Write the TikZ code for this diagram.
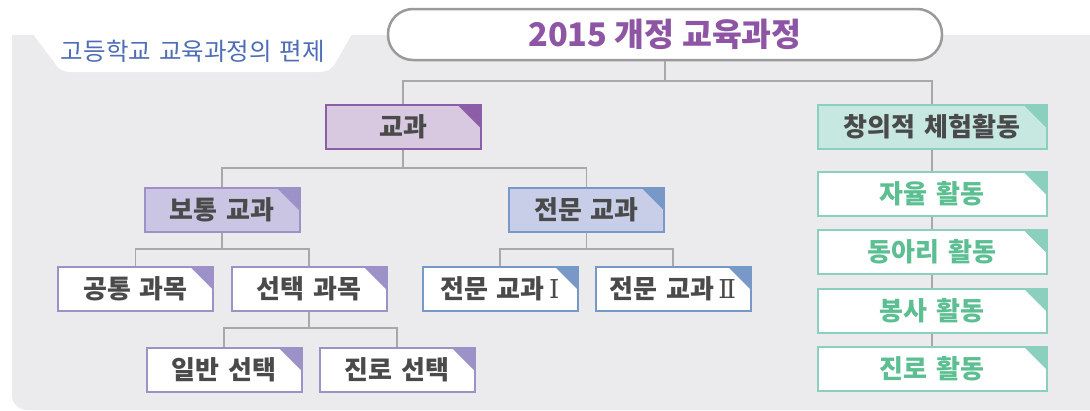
\documentclass[tikz,border=0pt]{standalone}
\usepackage{fontspec}
\newfontfamily\kr{Noto Sans CJK KR}
\newfontfamily\romfont{DejaVu Serif}
\newcommand\mywidesp{\spaceskip=0.33em\relax}
\definecolor{bg}{HTML}{EBEBEE}
\definecolor{tabtext}{HTML}{4F6DB5}
\definecolor{titlecol}{HTML}{8E55A5}
\definecolor{topborder}{HTML}{9A9A9A}
\definecolor{conncol}{HTML}{A8A8A8}
\definecolor{txt}{HTML}{4A4A4A}
\definecolor{gyofill}{HTML}{D9C9E0}
\definecolor{gyoline}{HTML}{8D5EA8}
\definecolor{botfill}{HTML}{C9C5E3}
\definecolor{botline}{HTML}{9C92C8}
\definecolor{jmfill}{HTML}{C8CEE8}
\definecolor{jmline}{HTML}{7898C8}
\definecolor{chfill}{HTML}{C7E8E0}
\definecolor{chline}{HTML}{8BD0BE}
\definecolor{greentxt}{HTML}{5CBF92}
\begin{document}
\begin{tikzpicture}[x=1pt,y=-1pt,
  box/.style={draw=#1, line width=2pt, minimum width=155pt, minimum height=44pt,
    inner sep=0pt, font=\kr\bfseries\fontsize{26}{28}\selectfont\mywidesp, text=txt,
    path picture={\fill[#1] ([xshift=-23pt]path picture bounding box.north east)
      -- (path picture bounding box.north east)
      -- ([yshift=-23pt]path picture bounding box.north east) -- cycle;}},
  widebox/.style={box=#1, minimum width=229pt},
  conn/.style={draw=conncol, line width=1.5pt}]
\useasboundingbox (0,0) rectangle (1090,410);
% background
\fill[bg] (12,35) -- (1090,35) -- (1090,410) -- (27,410)
  .. controls (18.7,410) and (12,403.3) .. (12,395) -- cycle;
\fill[white] (33,34) -- (352,34) -- (336,62) .. controls (331,70) and (327,72) .. (318,72)
  -- (72,72) .. controls (63,72) and (59,70) .. (54,62) -- cycle;
\node[font=\kr\fontsize{24.5}{26}\selectfont\mywidesp, text=tabtext] (tab) at (193,51) {고등학교 교육과정의 편제};
% nodes
\node[draw=topborder, line width=2.5pt, fill=white, minimum width=554pt, minimum height=51pt,
  rounded corners=25pt, font=\kr\bfseries\fontsize{32.5}{34}\selectfont, text=titlecol]
  (top) at (665,34.5) {2015 개정 교육과정};
\node[box=gyoline, fill=gyofill] (gyo) at (403,127) {교과};
\node[widebox=chline, fill=chfill] (cheh) at (932,127) {창의적 체험활동};
\node[box=botline, fill=botfill] (bot) at (222,209.5) {보통 교과};
\node[box=jmline, fill=jmfill] (jm) at (586.5,209.5) {전문 교과};
\node[box=botline, fill=white] (gt) at (135.5,288.5) {공통 과목};
\node[box=botline, fill=white] (st) at (309,288.5) {선택 과목};
\node[box=jmline, fill=white] (j1) at (500,288.5) {전문 교과\,{\romfont\mdseries Ⅰ}};
\node[box=jmline, fill=white] (j2) at (673,288.5) {전문 교과\,{\romfont\mdseries Ⅱ}};
\node[box=botline, fill=white] (il) at (224,369.5) {일반 선택};
\node[box=botline, fill=white] (jr) at (397,369.5) {진로 선택};
\node[widebox=chline, fill=white, text=greentxt] (g1) at (932,194) {자율 활동};
\node[widebox=chline, fill=white, text=greentxt] (g2) at (932,252) {동아리 활동};
\node[widebox=chline, fill=white, text=greentxt] (g3) at (932,310.5) {봉사 활동};
\node[widebox=chline, fill=white, text=greentxt] (g4) at (932,368.5) {진로 활동};
% connectors
\draw[conn] (top.south) -- (top.south |- 0,81);
\draw[conn] (gyo.north) -- (gyo.north |- 0,81) -| (cheh.north);
\draw[conn] (gyo.south) -- (gyo.south |- 0,168);
\draw[conn] (bot.north) -- (bot.north |- 0,168) -| (jm.north);
\draw[conn] (bot.south) -- (bot.south |- 0,249);
\draw[conn] (gt.north) -- (gt.north |- 0,249) -| (st.north);
\draw[conn] (jm.south) -- (jm.south |- 0,249);
\draw[conn] (j1.north) -- (j1.north |- 0,249) -| (j2.north);
\draw[conn] (st.south) -- (st.south |- 0,328);
\draw[conn] (il.north) -- (il.north |- 0,328) -| (jr.north);
\draw[conn] (cheh) -- (g1);
\draw[conn] (g1) -- (g2);
\draw[conn] (g2) -- (g3);
\draw[conn] (g3) -- (g4);
\end{tikzpicture}
\end{document}
